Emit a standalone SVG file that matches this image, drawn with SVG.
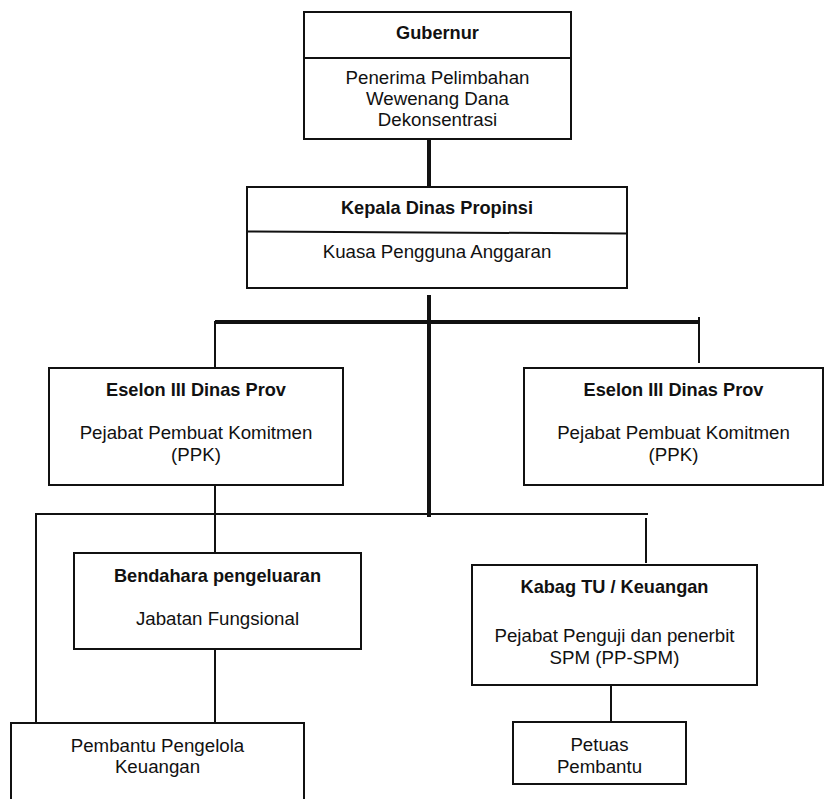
<svg xmlns="http://www.w3.org/2000/svg" width="827" height="799" viewBox="0 0 827 799">
  <style>
    .box { fill: #ffffff; stroke: #111111; stroke-width: 2; }
    .div { stroke: #111111; stroke-width: 2; fill: none; }
    .thin { stroke: #111111; stroke-width: 2; fill: none; }
    .thick { stroke: #111111; stroke-width: 4; fill: none; }
    text { font-family: "Liberation Sans", Arial, Helvetica, sans-serif; font-size: 18.7px; fill: #111111; text-anchor: middle; }
    .b { font-weight: bold; font-size: 18.2px; }
  </style>
  <rect width="827" height="799" fill="#ffffff"/>

  <!-- connectors -->
  <g id="connectors">
    <line class="thick" x1="429" y1="139" x2="429" y2="187"/>
    <line class="thick" x1="429" y1="295" x2="429" y2="517"/>
    <line class="thick" x1="215" y1="322" x2="699" y2="322"/>
    <line class="thin" x1="215" y1="321" x2="215" y2="368"/>
    <line class="thin" x1="699" y1="317" x2="699" y2="363"/>
    <line class="thin" x1="215" y1="485" x2="215" y2="553"/>
    <line class="thin" x1="36" y1="514" x2="648" y2="514"/>
    <line class="thin" x1="36" y1="513" x2="36" y2="723"/>
    <line class="thin" x1="646" y1="518" x2="646" y2="563"/>
    <line class="thin" x1="215" y1="649" x2="215" y2="723"/>
    <line class="thin" x1="611" y1="683" x2="611" y2="722"/>
  </g>

  <!-- Gubernur -->
  <g id="gubernur">
    <rect class="box" x="304" y="12" width="267" height="127"/>
    <line class="div" x1="304" y1="58" x2="571" y2="58"/>
    <text class="b" x="437.5" y="39">Gubernur</text>
    <text x="437.5" y="83.5">Penerima Pelimbahan</text>
    <text x="437.5" y="104.5">Wewenang Dana</text>
    <text x="437.5" y="125.5">Dekonsentrasi</text>
  </g>

  <!-- Kepala Dinas Propinsi -->
  <g id="kepala-dinas">
    <rect class="box" x="247" y="187" width="380" height="101"/>
    <line class="div" x1="247" y1="231.5" x2="627" y2="233.5"/>
    <text class="b" x="437" y="214">Kepala Dinas Propinsi</text>
    <text x="437" y="258">Kuasa Pengguna Anggaran</text>
  </g>

  <!-- Eselon III (left) -->
  <g id="eselon-kiri">
    <rect class="box" x="49" y="368" width="294" height="117"/>
    <text class="b" x="196" y="396">Eselon III Dinas Prov</text>
    <text x="196" y="439">Pejabat Pembuat Komitmen</text>
    <text x="196" y="461">(PPK)</text>
  </g>

  <!-- Eselon III (right) -->
  <g id="eselon-kanan">
    <rect class="box" x="524" y="368" width="299" height="117"/>
    <text class="b" x="673.5" y="396">Eselon III Dinas Prov</text>
    <text x="673.5" y="439">Pejabat Pembuat Komitmen</text>
    <text x="673.5" y="461">(PPK)</text>
  </g>

  <!-- Bendahara pengeluaran -->
  <g id="bendahara">
    <rect class="box" x="74" y="553" width="287" height="96"/>
    <text class="b" x="217.5" y="582">Bendahara pengeluaran</text>
    <text x="217.5" y="625">Jabatan Fungsional</text>
  </g>

  <!-- Kabag TU / Keuangan -->
  <g id="kabag-tu">
    <rect class="box" x="472" y="565" width="285" height="120"/>
    <text class="b" x="614.5" y="593">Kabag TU / Keuangan</text>
    <text x="614.5" y="642">Pejabat Penguji dan penerbit</text>
    <text x="614.5" y="664">SPM (PP-SPM)</text>
  </g>

  <!-- Pembantu Pengelola Keuangan -->
  <g id="pembantu-pengelola">
    <rect class="box" x="11" y="723" width="293" height="90"/>
    <text x="157.5" y="752">Pembantu Pengelola</text>
    <text x="157.5" y="773">Keuangan</text>
  </g>

  <!-- Petuas Pembantu -->
  <g id="petuas-pembantu">
    <rect class="box" x="513" y="722" width="173" height="62"/>
    <text x="599.5" y="751">Petuas</text>
    <text x="599.5" y="773">Pembantu</text>
  </g>
</svg>
